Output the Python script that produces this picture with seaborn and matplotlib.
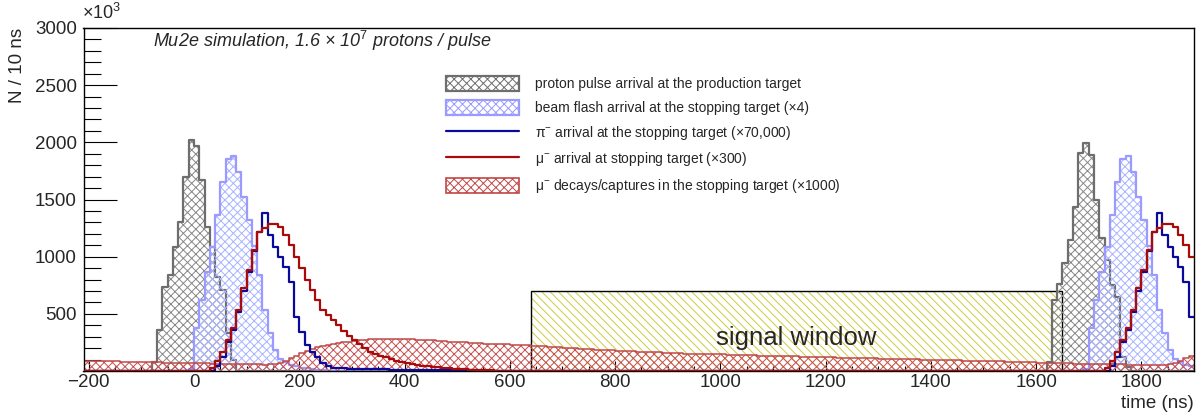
import numpy as np
import pandas as pd
import matplotlib
matplotlib.use("Agg")
import matplotlib.pyplot as plt
import seaborn as sns
from matplotlib.patches import Patch, Rectangle
from matplotlib.lines import Line2D
from matplotlib.ticker import MultipleLocator

# ---------------- data (units of 10^3 per 10 ns) ----------------
BIN_W = 10
X_MIN, X_MAX = -210, 1900

# proton pulse arrival at the production target
proton_pulse1_start = -80
proton_pulse1 = [75, 355, 735, 840, 1085, 1306, 1700, 2020, 1968, 1670, 1262, 1088, 825, 708, 329, 96]
proton_pulse2_start = 1620
proton_pulse2 = [80, 621, 765, 942, 1146, 1437, 1904, 1997, 1889, 1496, 1160, 971, 752, 650, 125, 38]

# the other pulse-shaped series repeat for the next proton pulse
next_pulse_offset = 1700

# beam flash arrival at the stopping target (x4)
flash_start = -10
flash_pulse = [20, 372, 621, 869, 1088, 1365, 1656, 1851, 1880, 1743, 1525, 1321, 1090, 840,
               534, 335, 184, 105, 75, 55, 40, 30, 22, 15, 10, 6]

# pi- arrival at the stopping target (x70,000)
pion_start = 40
pion_pulse = [40, 120, 250, 360, 520, 700, 870, 1050, 1219, 1379, 1190, 1088, 1000, 913, 782,
              475, 345, 228, 170, 125, 67, 40, 30, 25,
              22, 20, 19, 18, 17, 16, 15, 15, 14, 13, 12, 12, 11, 10, 10, 9, 9, 8, 8, 7, 7,
              6, 6, 5, 5, 5, 4, 4, 3, 3, 3, 2]

# mu- arrival at stopping target (x300)
muon_start = 30
muon_pulse = [30, 87, 170, 271, 373, 534, 723, 884, 1058, 1219, 1248, 1286, 1286, 1263, 1190,
              1102, 1000, 898, 796, 708, 621, 534, 490, 445, 400, 350, 310, 271, 233, 198,
              169, 150, 135, 120, 108, 90, 78, 70, 62, 55, 48, 42, 37, 32, 28, 24, 20, 17,
              15, 13, 11, 9, 7, 6, 4, 3, 2]

# mu- decays/captures in the stopping target (x1000), every bin from -210 to 1900
stopped_start = -210
stopped_mu = [91,
              90, 89, 88, 86, 85, 84, 83, 82, 80, 79,
              78, 77, 76, 75, 74, 73, 72, 71, 70, 69,
              68, 67, 66, 65, 64, 63, 62, 61, 60, 59,
              58, 57, 57, 56, 57, 60, 70, 88, 110, 135,
              155, 175, 195, 212, 222, 230, 237, 244, 250, 256,
              262, 268, 273, 277, 279, 280, 281, 281, 280, 279,
              277, 276, 274, 272, 270, 267, 264, 261, 258, 255,
              252, 250, 247, 245, 242, 240, 238, 236, 234, 232,
              230, 228, 226, 224, 222, 220, 217, 214, 211, 208,
              205, 202, 199, 196, 193, 190, 188, 185, 183, 180,
              178, 176, 174, 172, 170, 168, 166, 164, 162, 160,
              158, 156, 155, 153, 152, 151, 150, 149, 148, 147,
              146, 144, 143, 141, 140, 138, 137, 135, 134, 133,
              131, 130, 129, 128, 127, 125, 124, 123, 122, 121,
              120, 119, 118, 117, 115, 114, 113, 112, 111, 110,
              108, 107, 106, 105, 104, 103, 102, 101, 99, 98,
              97, 96, 95, 94, 93, 92, 91, 90, 89, 88,
              87, 86, 85, 84, 82, 81, 79, 78, 76, 75,
              73, 72, 70, 69, 68, 67, 66, 65, 64, 63,
              62, 61, 60, 59, 58, 57, 57, 56, 55, 55,
              54, 54, 53, 53, 55, 60, 70, 88, 110, 135]

# signal window
window_x = [640, 1650]
window_top = 700

legend_labels = [
    "proton pulse arrival at the production target",
    "beam flash arrival at the stopping target (\u00d74)",
    "\u03c0$^{-}$ arrival at the stopping target (\u00d770,000)",
    "\u03bc$^{-}$ arrival at stopping target (\u00d7300)",
    "\u03bc$^{-}$ decays/captures in the stopping target (\u00d71000)",
]

# ---------------- style ----------------
sns.set_theme(style="ticks")
plt.rcParams["font.family"] = ["Liberation Sans", "DejaVu Sans"]
plt.rcParams["mathtext.fontset"] = "custom"
plt.rcParams["mathtext.rm"] = "Liberation Sans"
plt.rcParams["mathtext.it"] = "Liberation Sans:italic"
plt.rcParams["hatch.linewidth"] = 0.7

c_gray, c_gray_h = "#6e6e6e", "#888888"
c_flash, c_flash_h = "#9a9aff", "#a9b3ff"
c_pion = "#0a0a9a"
c_muon = "#aa0a0a"
c_stop, c_stop_h = "#c04848", "#c85050"
c_yellow = "#cccc3c"

edges = np.arange(X_MIN, X_MAX + BIN_W, BIN_W)
centers = edges[:-1] + BIN_W / 2
nb = len(centers)


def to_bins(pulses):
    arr = np.zeros(nb)
    for start, vals in pulses:
        i0 = int(round((start - X_MIN) / BIN_W))
        for k, v in enumerate(vals):
            if 0 <= i0 + k < nb:
                arr[i0 + k] += v
    return arr


series = {
    "proton": to_bins([(proton_pulse1_start, proton_pulse1), (proton_pulse2_start, proton_pulse2)]),
    "flash": to_bins([(flash_start, flash_pulse), (flash_start + next_pulse_offset, flash_pulse)]),
    "pion": to_bins([(pion_start, pion_pulse), (pion_start + next_pulse_offset, pion_pulse)]),
    "muon": to_bins([(muon_start, muon_pulse), (muon_start + next_pulse_offset, muon_pulse)]),
    "stopped": to_bins([(stopped_start, stopped_mu)]),
}
df = pd.DataFrame({"t": centers, **series})

W, H = 1200, 417
fig = plt.figure(figsize=(W / 100, H / 100), dpi=100)
ax = fig.add_axes([83.5 / W, 1 - 371 / H, (1194 - 83.5) / W, 343 / H])

# signal window
ax.add_patch(Rectangle((window_x[0], 0), window_x[1] - window_x[0], window_top,
                       facecolor="none", edgecolor=c_yellow, hatch="\\\\\\\\", linewidth=0, zorder=1))
ax.add_patch(Rectangle((window_x[0], 0), window_x[1] - window_x[0], window_top,
                       facecolor="none", edgecolor="black", linewidth=1.0, zorder=1.5))
ax.text(1145, 228, "signal window", fontsize=18.5, ha="center", va="baseline", zorder=6)


def outline(name, color, lw, z):
    sns.histplot(data=df, x="t", weights=name, binwidth=BIN_W, binrange=(X_MIN, X_MAX),
                 element="step", fill=False, color=color, linewidth=lw, ax=ax, zorder=z)


# hatched histograms
for name, ec, hc, lw, z in [("proton", c_gray, c_gray_h, 1.6, 2.0),
                            ("flash", c_flash, c_flash_h, 1.6, 2.1),
                            ("stopped", c_stop, c_stop_h, 1.1, 2.2)]:
    ax.stairs(series[name], edges, fill=True, facecolor="none", edgecolor=hc, hatch="xxxx",
              linewidth=0, zorder=z)
    outline(name, ec, lw, z + 0.05)

outline("pion", c_pion, 1.6, 4)
outline("muon", c_muon, 1.6, 4.1)

ax.set_xlim(X_MIN, X_MAX)
ax.set_ylim(0, 3000)
ax.set_xlabel("")
ax.set_ylabel("")
ax.set_xticks(np.arange(-200, 1801, 200))
ax.xaxis.set_minor_locator(MultipleLocator(50))
ax.set_yticks(np.arange(500, 3001, 500))
ax.yaxis.set_minor_locator(MultipleLocator(100))
ax.tick_params(axis="y", which="major", direction="in", length=23.8, width=0.8,
               labelsize=13.5, pad=4.7, left=True, right=False, color="black")
ax.tick_params(axis="y", which="minor", direction="in", length=12, width=0.8,
               left=True, right=False, color="black")
ax.tick_params(axis="x", which="major", direction="in", length=7.2, width=0.8,
               labelsize=13.5, pad=2.5, bottom=True, top=False, color="black")
ax.tick_params(axis="x", which="minor", direction="in", length=3.6, width=0.8,
               bottom=True, top=False, color="black")
for s in ax.spines.values():
    s.set_visible(True)
    s.set_color("black")
    s.set_linewidth(1.0)

# legend
handles = [
    Patch(facecolor="none", edgecolor=c_gray, hatch="xxxx", linewidth=1.6),
    Patch(facecolor="none", edgecolor=c_flash, hatch="xxxx", linewidth=1.6),
    Line2D([], [], color=c_pion, linewidth=1.6),
    Line2D([], [], color=c_muon, linewidth=1.6),
    Patch(facecolor="none", edgecolor=c_stop, hatch="xxxx", linewidth=1.2),
]
fig.legend(handles, legend_labels, loc="upper left", bbox_to_anchor=(446 / W, 1 - 76 / H),
           frameon=False, fontsize=10, handlelength=5.25, handleheight=1.3,
           labelspacing=0.62, handletextpad=1.15, borderpad=0, borderaxespad=0)

# texts
fig.text(153 / W, 1 - 47 / H, "Mu2e simulation, 1.6 \u00d7 10$^{\\mathit{7}}$ protons / pulse",
         fontsize=13, style="italic", ha="left", va="baseline")
fig.text(82 / W, 1 - 19 / H, "\u00d710$^{3}$", fontsize=13, ha="left", va="baseline")
fig.text(17 / W, 1 - 28 / H, "N / 10 ns", fontsize=13.5, rotation=90, ha="center", va="top")
fig.text(1194 / W, 1 - 403.5 / H, "time (ns)", fontsize=13.5, ha="right", va="center")

fig.savefig("out.png", dpi=100)
